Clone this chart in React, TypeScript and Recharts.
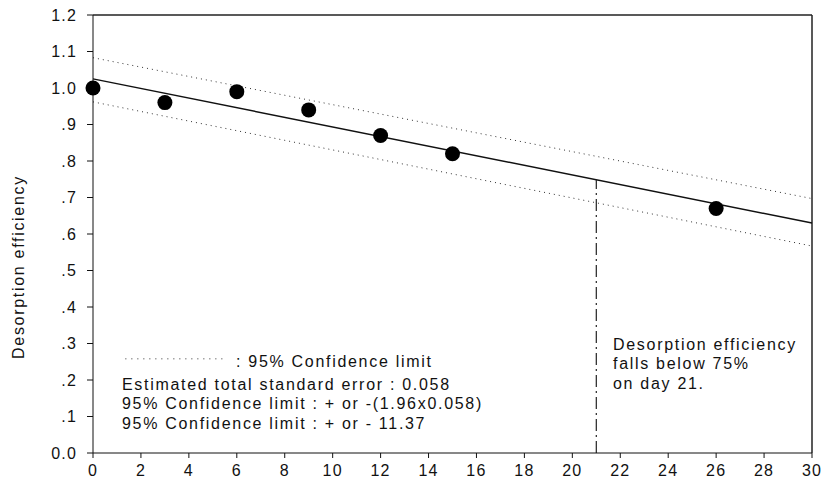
import {
  ComposedChart,
  Line,
  Scatter,
  XAxis,
  YAxis,
  ReferenceLine,
} from "recharts";

const days = [0, 3, 6, 9, 12, 15, 26];
const efficiency = [1.0, 0.96, 0.99, 0.94, 0.87, 0.82, 0.67];

// regression line and 95% limits, read at both ends of the x range
const fitDays = [0, 30];
const fitValues = [1.025, 0.63];
const upperValues = [1.083, 0.697];
const lowerValues = [0.962, 0.567];

const xTicks = [0, 2, 4, 6, 8, 10, 12, 14, 16, 18, 20, 22, 24, 26, 28, 30];
const yTicks = [0, 0.1, 0.2, 0.3, 0.4, 0.5, 0.6, 0.7, 0.8, 0.9, 1.0, 1.1, 1.2];

const cutoffDay = 21;
const cutoffValue = 0.748;

const legendLine = { x1: 1.35, x2: 5.5, y: 0.258 };

const notes = [
  "Estimated total standard error : 0.058",
  "95% Confidence limit : + or -(1.96x0.058)",
  "95% Confidence limit : + or - 11.37",
];
const sideNote = ["Desorption efficiency", "falls below 75%", "on day 21."];

const points = days.map((d, i) => ({ day: d, eff: efficiency[i] }));
const fit = fitDays.map((d, i) => ({ day: d, v: fitValues[i] }));
const upper = fitDays.map((d, i) => ({ day: d, v: upperValues[i] }));
const lower = fitDays.map((d, i) => ({ day: d, v: lowerValues[i] }));

const fmtY = (v: number) => {
  if (v === 0) return "0.0";
  if (v >= 1) return v.toFixed(1);
  return v.toFixed(1).replace(/^0/, "");
};

const font = "'Liberation Sans', Arial, sans-serif";
const textStyle: React.CSSProperties = {
  position: "absolute",
  fontFamily: font,
  fontSize: 16,
  letterSpacing: 1.7,
  color: "#111",
  whiteSpace: "nowrap",
  lineHeight: "19px",
};
const tickStyle = { fill: "#111", fontSize: 16, fontFamily: font, letterSpacing: 1.2 };

export default function App() {
  return (
    <div style={{ position: "absolute", left: 0, top: 0, width: 823, height: 490, background: "#fff" }}>
      <ComposedChart width={823} height={490} margin={{ top: 15, right: 11, bottom: 0, left: 0 }}>
        <XAxis
          dataKey="day"
          type="number"
          domain={[0, 30]}
          ticks={xTicks}
          height={37}
          tickSize={5}
          tickMargin={7}
          stroke="#111"
          tick={tickStyle}
          allowDuplicatedCategory={false}
        />
        <YAxis
          type="number"
          domain={[0, 1.2]}
          ticks={yTicks}
          width={93}
          tickSize={6}
          tickMargin={10}
          tickFormatter={fmtY}
          stroke="#111"
          tick={tickStyle}
        />
        <ReferenceLine y={1.2} stroke="#222" strokeWidth={1.5} />
        <ReferenceLine x={30} stroke="#222" strokeWidth={1.5} />
        <Line data={upper} dataKey="v" stroke="#333" strokeWidth={1} strokeDasharray="1 4" dot={false} isAnimationActive={false} />
        <Line data={lower} dataKey="v" stroke="#333" strokeWidth={1} strokeDasharray="1 4" dot={false} isAnimationActive={false} />
        <Line data={fit} dataKey="v" stroke="#111" strokeWidth={1.5} dot={false} isAnimationActive={false} />
        <ReferenceLine
          segment={[{ x: cutoffDay, y: 0 }, { x: cutoffDay, y: cutoffValue }]}
          stroke="#222"
          strokeWidth={1.2}
          strokeDasharray="12 4 2 4"
        />
        <ReferenceLine
          segment={[{ x: legendLine.x1, y: legendLine.y }, { x: legendLine.x2, y: legendLine.y }]}
          stroke="#333"
          strokeDasharray="1 5"
        />
        <Scatter
          data={points}
          dataKey="eff"
          fill="#000"
          isAnimationActive={false}
          shape={(p: any) => <circle cx={p.cx} cy={p.cy} r={7.5} fill="#000" />}
        />
      </ComposedChart>
      {/* rotated y-axis title */}
      <div
        style={{
          ...textStyle,
          left: 18,
          top: 267,
          transform: "translate(-50%, -50%) rotate(-90deg)",
        }}
      >
        Desorption efficiency
      </div>
      <div style={{ ...textStyle, left: 236, top: 352 }}>: 95% Confidence limit</div>
      {notes.map((t, i) => (
        <div key={t} style={{ ...textStyle, left: 122, top: 375 + i * 19.3 }}>
          {t}
        </div>
      ))}
      {sideNote.map((t, i) => (
        <div key={t} style={{ ...textStyle, left: 613, top: 335 + i * 19.3 }}>
          {t}
        </div>
      ))}
    </div>
  );
}
